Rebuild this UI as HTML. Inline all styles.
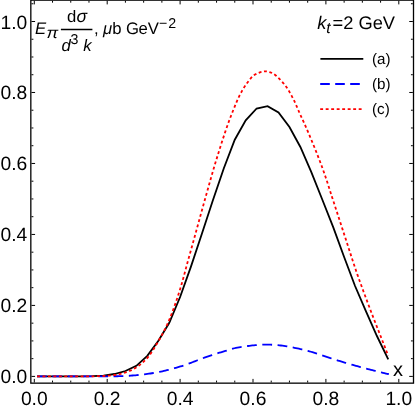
<!DOCTYPE html>
<html><head><meta charset="utf-8"><title>plot</title>
<style>
html,body{margin:0;padding:0;background:#fff;}
body{width:415px;height:411px;overflow:hidden;}
svg{display:block;will-change:transform;text-rendering:geometricPrecision;}
text{font-family:"Liberation Sans",sans-serif;fill:#000;}
</style></head>
<body>
<svg width="415" height="411" viewBox="0 0 415 411">
<rect x="0" y="0" width="415" height="411" fill="#fff"/>
<path d="M37.95,376.40 L48.88,376.40 L59.81,376.40 L70.75,376.40 L81.69,376.35 L92.62,376.20 L103.55,375.70 L114.49,374.00 L125.42,371.00 L136.36,365.80 L147.30,355.80 L158.23,341.00 L169.17,323.00 L180.10,297.00 L191.03,266.40 L201.97,233.50 L212.90,200.30 L223.84,168.30 L234.78,139.70 L245.71,120.30 L256.64,108.50 L267.58,106.10 L278.51,112.50 L289.45,127.00 L300.38,147.00 L311.32,172.10 L322.26,199.50 L333.19,227.10 L344.12,257.00 L355.06,286.00 L366.00,311.40 L376.93,336.00 L387.87,358.60" fill="none" stroke="#000" stroke-width="1.8" stroke-linejoin="miter" stroke-linecap="square"/>
<path d="M37.05,376.40 L37.90,376.40 L39.40,376.40 L40.90,376.40 L42.40,376.40 L43.90,376.40 L45.40,376.40 L46.90,376.40 L48.40,376.40 L49.90,376.40 L51.40,376.40 L52.90,376.40 L54.40,376.40 L55.90,376.40 L57.40,376.40 L58.90,376.40 L60.40,376.40 L61.90,376.40 L63.40,376.40 L64.90,376.40 L66.40,376.40 L67.90,376.40 L69.40,376.40 L70.90,376.40 L72.40,376.40 L73.90,376.40 L75.40,376.40 L76.90,376.40 L78.40,376.40 L79.90,376.40 L81.40,376.40 L82.90,376.40 L84.40,376.40 L85.90,376.40 L87.40,376.40 L88.90,376.40 L90.40,376.40 L91.90,376.40 L93.40,376.40 L94.90,376.40 L96.40,376.40 L97.90,376.39 L99.40,376.39 L100.90,376.38 L102.40,376.37 L103.90,376.36 L105.40,376.35 L106.90,376.34 L108.40,376.33 L109.90,376.31 L111.40,376.30 L112.90,376.28 L114.40,376.26 L115.90,376.25 L117.40,376.23 L118.90,376.21 L120.40,376.18 L121.90,376.14 L123.40,376.08 L124.90,376.02 L126.40,375.94 L127.90,375.85 L129.40,375.75 L130.90,375.64 L132.40,375.52 L133.90,375.40 L135.40,375.28 L136.90,375.15 L138.40,375.02 L139.90,374.88 L141.40,374.72 L142.90,374.55 L144.40,374.37 L145.90,374.16 L147.40,373.95 L148.90,373.72 L150.40,373.49 L151.90,373.24 L153.40,372.99 L154.90,372.72 L156.40,372.46 L157.90,372.18 L159.40,371.90 L160.90,371.59 L162.40,371.27 L163.90,370.93 L165.40,370.58 L166.90,370.22 L168.40,369.84 L169.90,369.45 L171.40,369.05 L172.90,368.64 L174.40,368.22 L175.90,367.79 L177.40,367.36 L178.90,366.92 L180.40,366.48 L181.90,366.02 L183.40,365.53 L184.90,365.03 L186.40,364.50 L187.90,363.97 L189.40,363.41 L190.90,362.85 L192.40,362.28 L193.90,361.70 L195.40,361.12 L196.90,360.53 L198.40,359.95 L199.90,359.37 L201.40,358.80 L202.90,358.23 L204.40,357.68 L205.90,357.14 L207.40,356.61 L208.90,356.10 L210.40,355.60 L211.90,355.11 L213.40,354.63 L214.90,354.14 L216.40,353.67 L217.90,353.20 L219.40,352.73 L220.90,352.28 L222.40,351.82 L223.90,351.37 L225.40,350.93 L226.90,350.49 L228.40,350.05 L229.90,349.60 L231.40,349.13 L232.90,348.67 L234.40,348.25 L235.90,347.87 L237.40,347.57 L238.90,347.33 L240.40,347.09 L241.90,346.86 L243.40,346.64 L244.90,346.42 L246.40,346.21 L247.90,346.01 L249.40,345.82 L250.90,345.63 L252.40,345.46 L253.90,345.30 L255.40,345.16 L256.90,345.03 L258.40,344.91 L259.90,344.81 L261.40,344.73 L262.90,344.67 L264.40,344.63 L265.90,344.60 L267.40,344.60 L268.90,344.63 L270.40,344.68 L271.90,344.76 L273.40,344.86 L274.90,344.97 L276.40,345.09 L277.90,345.22 L279.40,345.35 L280.90,345.49 L282.40,345.66 L283.90,345.86 L285.40,346.09 L286.90,346.34 L288.40,346.61 L289.90,346.89 L291.40,347.19 L292.90,347.49 L294.40,347.79 L295.90,348.09 L297.40,348.40 L298.90,348.72 L300.40,349.06 L301.90,349.41 L303.40,349.78 L304.90,350.15 L306.40,350.54 L307.90,350.93 L309.40,351.34 L310.90,351.75 L312.40,352.19 L313.90,352.64 L315.40,353.11 L316.90,353.58 L318.40,354.07 L319.90,354.57 L321.40,355.07 L322.90,355.58 L324.40,356.09 L325.90,356.60 L327.40,357.11 L328.90,357.62 L330.40,358.12 L331.90,358.62 L333.40,359.11 L334.90,359.60 L336.40,360.07 L337.90,360.53 L339.40,360.98 L340.90,361.43 L342.40,361.88 L343.90,362.33 L345.40,362.77 L346.90,363.22 L348.40,363.65 L349.90,364.09 L351.40,364.52 L352.90,364.95 L354.40,365.38 L355.90,365.81 L357.40,366.23 L358.90,366.64 L360.40,367.06 L361.90,367.47 L363.40,367.87 L364.90,368.28 L366.40,368.67 L367.90,369.07 L369.40,369.46 L370.90,369.84 L372.40,370.23 L373.90,370.61 L375.40,370.98 L376.90,371.36 L378.40,371.72 L379.90,372.09 L381.40,372.45 L382.90,372.81 L384.40,373.16 L385.90,373.51 L387.40,373.86 L388.00,374.00 L388.83,374.19" fill="none" stroke="#0000ff" stroke-width="1.8" stroke-dasharray="9.8 5.5"/>
<path d="M37.05,376.40 L37.90,376.40 L39.40,376.40 L40.90,376.40 L42.40,376.40 L43.90,376.40 L45.40,376.40 L46.90,376.40 L48.40,376.40 L49.90,376.40 L51.40,376.40 L52.90,376.40 L54.40,376.40 L55.90,376.40 L57.40,376.40 L58.90,376.40 L60.40,376.40 L61.90,376.40 L63.40,376.40 L64.90,376.40 L66.40,376.40 L67.90,376.40 L69.40,376.40 L70.90,376.40 L72.40,376.40 L73.90,376.40 L75.40,376.40 L76.90,376.39 L78.40,376.39 L79.90,376.38 L81.40,376.37 L82.90,376.37 L84.40,376.36 L85.90,376.35 L87.40,376.34 L88.90,376.33 L90.40,376.32 L91.90,376.31 L93.40,376.29 L94.90,376.27 L96.40,376.24 L97.90,376.20 L99.40,376.16 L100.90,376.11 L102.40,376.05 L103.90,375.99 L105.40,375.91 L106.90,375.80 L108.40,375.68 L109.90,375.54 L111.40,375.38 L112.90,375.20 L114.40,375.01 L115.90,374.80 L117.40,374.53 L118.90,374.23 L120.40,373.88 L121.90,373.50 L123.40,373.09 L124.90,372.65 L126.40,372.18 L127.90,371.64 L129.40,371.03 L130.90,370.35 L132.40,369.62 L133.90,368.83 L135.40,367.98 L136.90,367.06 L138.40,366.03 L139.90,364.89 L141.40,363.66 L142.90,362.33 L144.40,360.90 L145.90,359.38 L147.40,357.78 L148.90,355.99 L150.40,353.98 L151.90,351.79 L153.40,349.46 L154.90,347.03 L156.40,344.54 L157.90,342.03 L159.40,339.50 L160.90,336.89 L162.40,334.18 L163.90,331.35 L165.40,328.37 L166.90,325.21 L168.40,321.86 L169.90,318.29 L171.40,314.50 L172.90,310.53 L174.40,306.37 L175.90,302.06 L177.40,297.60 L178.90,293.02 L180.40,288.30 L181.90,283.22 L183.40,277.82 L184.90,272.24 L186.40,266.62 L187.90,261.08 L189.40,255.69 L190.90,250.32 L192.40,244.94 L193.90,239.54 L195.40,234.11 L196.90,228.64 L198.40,223.17 L199.90,217.69 L201.40,212.23 L202.90,206.81 L204.40,201.42 L205.90,196.08 L207.40,190.72 L208.90,185.38 L210.40,180.06 L211.90,174.80 L213.40,169.61 L214.90,164.53 L216.40,159.57 L217.90,154.70 L219.40,149.88 L220.90,145.13 L222.40,140.46 L223.90,135.87 L225.40,131.39 L226.90,127.02 L228.40,122.78 L229.90,118.71 L231.40,114.81 L232.90,111.04 L234.40,107.31 L235.90,103.60 L237.40,100.04 L238.90,96.80 L240.40,93.87 L241.90,91.10 L243.40,88.51 L244.90,86.14 L246.40,84.00 L247.90,81.98 L249.40,80.00 L250.90,78.15 L252.40,76.53 L253.90,75.24 L255.40,74.35 L256.90,73.64 L258.40,72.98 L259.90,72.39 L261.40,71.91 L262.90,71.55 L264.40,71.34 L265.90,71.32 L267.40,71.52 L268.90,71.89 L270.40,72.32 L271.90,72.94 L273.40,73.78 L274.90,74.81 L276.40,76.02 L277.90,77.38 L279.40,78.86 L280.90,80.43 L282.40,82.09 L283.90,83.79 L285.40,85.58 L286.90,87.67 L288.40,90.04 L289.90,92.63 L291.40,95.39 L292.90,98.24 L294.40,101.22 L295.90,104.52 L297.40,108.01 L298.90,111.52 L300.40,114.91 L301.90,118.19 L303.40,121.46 L304.90,124.76 L306.40,128.17 L307.90,131.67 L309.40,135.20 L310.90,138.76 L312.40,142.37 L313.90,146.02 L315.40,149.73 L316.90,153.50 L318.40,157.34 L319.90,161.26 L321.40,165.26 L322.90,169.35 L324.40,173.58 L325.90,178.01 L327.40,182.58 L328.90,187.24 L330.40,191.94 L331.90,196.61 L333.40,201.22 L334.90,205.81 L336.40,210.41 L337.90,215.02 L339.40,219.63 L340.90,224.24 L342.40,228.85 L343.90,233.46 L345.40,238.06 L346.90,242.67 L348.40,247.32 L349.90,251.98 L351.40,256.64 L352.90,261.26 L354.40,265.81 L355.90,270.25 L357.40,274.59 L358.90,278.84 L360.40,283.03 L361.90,287.16 L363.40,291.24 L364.90,295.28 L366.40,299.29 L367.90,303.28 L369.40,307.25 L370.90,311.22 L372.40,315.15 L373.90,319.04 L375.40,322.89 L376.90,326.72 L378.40,330.53 L379.90,334.35 L381.40,338.16 L382.90,341.99 L384.40,345.85 L385.90,349.74 L387.40,353.68 L387.90,355.00 L388.20,355.79" fill="none" stroke="#ff0000" stroke-width="1.8" stroke-dasharray="2.9 2.55"/>
<rect x="30.83" y="0.15" width="382.67" height="383.0" fill="none" stroke="#000" stroke-width="1.3"/>
<path d="M31.48,376.40h3.6 M412.85,376.40h-3.6 M31.48,358.65h1.9 M412.85,358.65h-1.9 M31.48,340.91h1.9 M412.85,340.91h-1.9 M31.48,323.16h1.9 M412.85,323.16h-1.9 M31.48,305.42h3.6 M412.85,305.42h-3.6 M31.48,287.67h1.9 M412.85,287.67h-1.9 M31.48,269.93h1.9 M412.85,269.93h-1.9 M31.48,252.18h1.9 M412.85,252.18h-1.9 M31.48,234.44h3.6 M412.85,234.44h-3.6 M31.48,216.69h1.9 M412.85,216.69h-1.9 M31.48,198.95h1.9 M412.85,198.95h-1.9 M31.48,181.20h1.9 M412.85,181.20h-1.9 M31.48,163.46h3.6 M412.85,163.46h-3.6 M31.48,145.71h1.9 M412.85,145.71h-1.9 M31.48,127.97h1.9 M412.85,127.97h-1.9 M31.48,110.23h1.9 M412.85,110.23h-1.9 M31.48,92.48h3.6 M412.85,92.48h-3.6 M31.48,74.73h1.9 M412.85,74.73h-1.9 M31.48,56.99h1.9 M412.85,56.99h-1.9 M31.48,39.24h1.9 M412.85,39.24h-1.9 M31.48,21.50h3.6 M412.85,21.50h-3.6 M31.48,3.75h1.9 M412.85,3.75h-1.9 M34.30,382.50v-3.6 M34.30,0.80v3.6 M52.52,382.50v-1.9 M52.52,0.80v1.9 M70.75,382.50v-1.9 M70.75,0.80v1.9 M88.98,382.50v-1.9 M88.98,0.80v1.9 M107.20,382.50v-3.6 M107.20,0.80v3.6 M125.42,382.50v-1.9 M125.42,0.80v1.9 M143.65,382.50v-1.9 M143.65,0.80v1.9 M161.88,382.50v-1.9 M161.88,0.80v1.9 M180.10,382.50v-3.6 M180.10,0.80v3.6 M198.32,382.50v-1.9 M198.32,0.80v1.9 M216.55,382.50v-1.9 M216.55,0.80v1.9 M234.78,382.50v-1.9 M234.78,0.80v1.9 M253.00,382.50v-3.6 M253.00,0.80v3.6 M271.23,382.50v-1.9 M271.23,0.80v1.9 M289.45,382.50v-1.9 M289.45,0.80v1.9 M307.68,382.50v-1.9 M307.68,0.80v1.9 M325.90,382.50v-3.6 M325.90,0.80v3.6 M344.13,382.50v-1.9 M344.13,0.80v1.9 M362.35,382.50v-1.9 M362.35,0.80v1.9 M380.58,382.50v-1.9 M380.58,0.80v1.9 M398.80,382.50v-3.6 M398.80,0.80v3.6" fill="none" stroke="#000" stroke-width="1.0"/>
<text x="27.3" y="383.40" font-size="19.3" text-anchor="end">0.0</text>
<text x="34.30" y="405.3" font-size="19.3" text-anchor="middle">0.0</text>
<text x="27.3" y="312.42" font-size="19.3" text-anchor="end">0.2</text>
<text x="107.20" y="405.3" font-size="19.3" text-anchor="middle">0.2</text>
<text x="27.3" y="241.44" font-size="19.3" text-anchor="end">0.4</text>
<text x="180.10" y="405.3" font-size="19.3" text-anchor="middle">0.4</text>
<text x="27.3" y="170.46" font-size="19.3" text-anchor="end">0.6</text>
<text x="253.00" y="405.3" font-size="19.3" text-anchor="middle">0.6</text>
<text x="27.3" y="99.48" font-size="19.3" text-anchor="end">0.8</text>
<text x="325.90" y="405.3" font-size="19.3" text-anchor="middle">0.8</text>
<text x="27.3" y="28.50" font-size="19.3" text-anchor="end">1.0</text>
<text x="398.80" y="405.3" font-size="19.3" text-anchor="middle">1.0</text>
<text x="392.9" y="376.0" font-size="20">x</text>
<text x="317.3" y="29.0" font-size="18.3" font-style="italic">k</text>
<text x="326.2" y="32.5" font-size="15.5" font-style="italic">t</text>
<text x="332.5" y="29.0" font-size="18.3">=2 GeV</text>
<path d="M320.4,58.8H363.3" stroke="#000" stroke-width="1.8"/>
<path d="M320.2,84.0H363.3" stroke="#0000ff" stroke-width="1.8" stroke-dasharray="9.6 5.4"/>
<path d="M320.2,109.1H363.3" stroke="#ff0000" stroke-width="1.8" stroke-dasharray="2.9 2.6"/>
<text x="372.0" y="63.80" font-size="15.2">(a)</text>
<text x="372.0" y="89.00" font-size="15.2">(b)</text>
<text x="372.0" y="114.10" font-size="15.2">(c)</text>
<text x="34.9" y="33.6" font-size="16.7" font-style="italic">E</text>
<text transform="translate(46.5,37.75) scale(1.12,1)" x="0" y="0" font-size="15.6" font-style="italic">π</text>
<text x="66.9" y="21.8" font-size="16.7">d</text>
<text x="76.6" y="21.8" font-size="17.5" font-style="italic">σ</text>
<path d="M60.9,29.5H92.4" stroke="#000" stroke-width="1.3"/>
<text x="61.6" y="50.7" font-size="16.7" font-style="italic">d</text>
<text x="70.5" y="43.9" font-size="14.2">3</text>
<text x="83.2" y="50.7" font-size="16.7" font-style="italic">k</text>
<text x="94.0" y="33.6" font-size="16.7">,</text>
<text x="103.0" y="33.6" font-size="16.7" font-style="italic">μ</text>
<text x="112.2" y="33.6" font-size="16.7">b G</text>
<text x="138.5" y="33.6" font-size="16.7">e</text>
<text x="147.8" y="33.6" font-size="16.7">V</text>
<text x="158.9" y="27.8" font-size="14.2">−</text>
<text x="168.2" y="27.8" font-size="14.2">2</text>
</svg>
</body></html>
